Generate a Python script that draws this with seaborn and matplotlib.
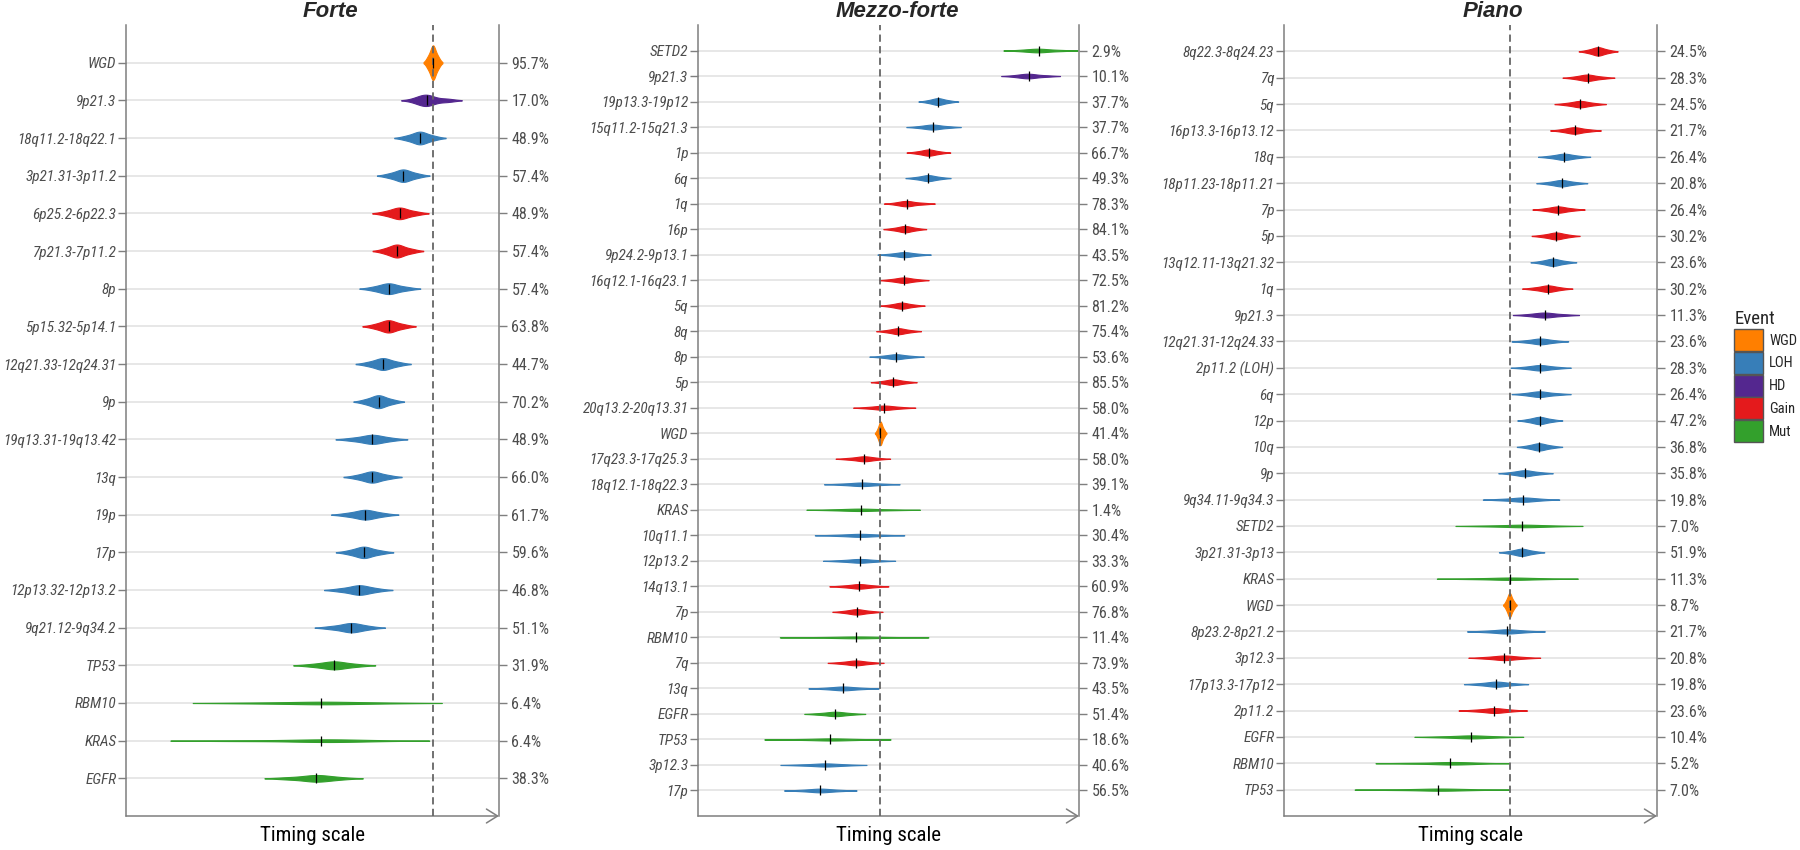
import numpy as np
import pandas as pd
import matplotlib
matplotlib.use("Agg")
import matplotlib.pyplot as plt
from matplotlib.patches import Patch
from matplotlib.collections import PolyCollection
from matplotlib import font_manager
import seaborn as sns

# ---- data (timing as fraction of each panel's timing axis) ----
forte_events = ["WGD", "9p21.3", "18q11.2-18q22.1", "3p21.31-3p11.2", "6p25.2-6p22.3",
                "7p21.3-7p11.2", "8p", "5p15.32-5p14.1", "12q21.33-12q24.31", "9p",
                "19q13.31-19q13.42", "13q", "19p", "17p", "12p13.32-12p13.2",
                "9q21.12-9q34.2", "TP53", "RBM10", "KRAS", "EGFR"]
forte_types = ["WGD", "HD", "LOH", "LOH", "Gain", "Gain", "LOH", "Gain", "LOH", "LOH",
               "LOH", "LOH", "LOH", "LOH", "LOH", "LOH", "Mut", "Mut", "Mut", "Mut"]
forte_pct = [95.7, 17.0, 48.9, 57.4, 48.9, 57.4, 57.4, 63.8, 44.7, 70.2,
             48.9, 66.0, 61.7, 59.6, 46.8, 51.1, 31.9, 6.4, 6.4, 38.3]
forte_lo = [0.798, 0.752, 0.720, 0.674, 0.663, 0.664, 0.629, 0.636, 0.617, 0.611,
            0.561, 0.585, 0.550, 0.565, 0.530, 0.504, 0.450, 0.172, 0.072, 0.367]
forte_med = [0.823, 0.807, 0.788, 0.743, 0.734, 0.727, 0.705, 0.704, 0.689, 0.677,
             0.660, 0.660, 0.641, 0.638, 0.625, 0.603, 0.558, 0.524, 0.523, 0.509]
forte_hi = [0.848, 0.910, 0.856, 0.813, 0.812, 0.798, 0.790, 0.777, 0.763, 0.745,
            0.751, 0.739, 0.728, 0.717, 0.711, 0.690, 0.667, 0.831, 0.746, 0.627]

mezzo_events = ["SETD2", "9p21.3", "19p13.3-19p12", "15q11.2-15q21.3", "1p", "6q", "1q",
                "16p", "9p24.2-9p13.1", "16q12.1-16q23.1", "5q", "8q", "8p", "5p",
                "20q13.2-20q13.31", "WGD", "17q23.3-17q25.3", "18q12.1-18q22.3", "KRAS",
                "10q11.1", "12p13.2", "14q13.1", "7p", "RBM10", "7q", "13q", "EGFR",
                "TP53", "3p12.3", "17p"]
mezzo_types = ["Mut", "HD", "LOH", "LOH", "Gain", "LOH", "Gain", "Gain", "LOH", "Gain",
               "Gain", "Gain", "LOH", "Gain", "Gain", "WGD", "Gain", "LOH", "Mut", "LOH",
               "LOH", "Gain", "Gain", "Mut", "Gain", "LOH", "Mut", "Mut", "LOH", "LOH"]
mezzo_pct = [2.9, 10.1, 37.7, 37.7, 66.7, 49.3, 78.3, 84.1, 43.5, 72.5, 81.2, 75.4, 53.6,
             85.5, 58.0, 41.4, 58.0, 39.1, 1.4, 30.4, 33.3, 60.9, 76.8, 11.4, 73.9, 43.5,
             51.4, 18.6, 40.6, 56.5]
mezzo_lo = [0.808, 0.802, 0.580, 0.550, 0.548, 0.545, 0.495, 0.487, 0.472, 0.477, 0.479,
            0.469, 0.452, 0.455, 0.408, 0.465, 0.360, 0.332, 0.292, 0.307, 0.328, 0.345,
            0.355, 0.211, 0.341, 0.292, 0.279, 0.169, 0.214, 0.227]
mezzo_med = [0.894, 0.868, 0.630, 0.616, 0.605, 0.604, 0.549, 0.543, 0.541, 0.540, 0.535,
             0.526, 0.520, 0.513, 0.489, 0.479, 0.435, 0.430, 0.428, 0.425, 0.424, 0.423,
             0.417, 0.416, 0.414, 0.381, 0.360, 0.347, 0.333, 0.321]
mezzo_hi = [1.000, 0.954, 0.683, 0.691, 0.661, 0.662, 0.626, 0.598, 0.610, 0.605, 0.595,
            0.585, 0.593, 0.574, 0.569, 0.495, 0.501, 0.528, 0.586, 0.539, 0.515, 0.498,
            0.485, 0.596, 0.486, 0.474, 0.437, 0.496, 0.437, 0.415]

piano_events = ["8q22.3-8q24.23", "7q", "5q", "16p13.3-16p13.12", "18q", "18p11.23-18p11.21",
                "7p", "5p", "13q12.11-13q21.32", "1q", "9p21.3", "12q21.31-12q24.33",
                "2p11.2 (LOH)", "6q", "12p", "10q", "9p", "9q34.11-9q34.3", "SETD2",
                "3p21.31-3p13", "KRAS", "WGD", "8p23.2-8p21.2", "3p12.3", "17p13.3-17p12",
                "2p11.2", "EGFR", "RBM10", "TP53"]
piano_types = ["Gain", "Gain", "Gain", "Gain", "LOH", "LOH", "Gain", "Gain", "LOH", "Gain",
               "HD", "LOH", "LOH", "LOH", "LOH", "LOH", "LOH", "LOH", "Mut", "LOH", "Mut",
               "WGD", "LOH", "Gain", "LOH", "Gain", "Mut", "Mut", "Mut"]
piano_pct = [24.5, 28.3, 24.5, 21.7, 26.4, 20.8, 26.4, 30.2, 23.6, 30.2, 11.3, 23.6, 28.3,
             26.4, 47.2, 36.8, 35.8, 19.8, 7.0, 51.9, 11.3, 8.7, 21.7, 20.8, 19.8, 23.6,
             10.4, 5.2, 7.0]
piano_lo = [0.791, 0.750, 0.726, 0.717, 0.682, 0.678, 0.668, 0.664, 0.663, 0.638, 0.618,
            0.610, 0.610, 0.615, 0.627, 0.626, 0.577, 0.530, 0.454, 0.577, 0.405, 0.588,
            0.490, 0.495, 0.483, 0.466, 0.347, 0.228, 0.176]
piano_med = [0.842, 0.814, 0.794, 0.779, 0.751, 0.744, 0.735, 0.729, 0.721, 0.707, 0.699,
             0.687, 0.687, 0.686, 0.685, 0.684, 0.646, 0.640, 0.638, 0.637, 0.606, 0.605,
             0.597, 0.591, 0.569, 0.563, 0.500, 0.445, 0.413]
piano_hi = [0.894, 0.887, 0.862, 0.851, 0.820, 0.813, 0.806, 0.791, 0.784, 0.771, 0.793,
            0.760, 0.769, 0.771, 0.746, 0.746, 0.721, 0.732, 0.790, 0.697, 0.778, 0.624,
            0.696, 0.685, 0.653, 0.647, 0.635, 0.578, 0.583]

EVENT_ORDER = ["WGD", "LOH", "HD", "Gain", "Mut"]
EVENT_COLORS = {"WGD": "#FF7F00", "LOH": "#377EB8", "HD": "#54278F",
                "Gain": "#E41A1C", "Mut": "#33A02C"}

sns.set_style("white")
installed = {f.name for f in font_manager.fontManager.ttflist}
COND = next((f for f in ["Roboto Condensed", "Liberation Sans Narrow", "Roboto"]
             if f in installed), "DejaVu Sans")
plt.rcParams["font.family"] = [COND, "DejaVu Sans"]

GRAY = "#7F7F7F"
LABEL = "#4D4D4D"
W, H = 1800, 850


def panel_frame(events, types, lo, med, hi):
    """Long table of timing estimates for one panel"""
    rows = []
    for ev, ty, a, m, b in zip(events, types, lo, med, hi):
        for v in ((a + m) / 2, m, m, m, (m + b) / 2):
            rows.append({"event": ev, "type": ty, "timing": v})
    return pd.DataFrame(rows)


def draw_panel(fig, box, title_x, title, events, types, pct, lo, med, hi):
    left, right = box
    ax = fig.add_axes([left / W, 1 - 816 / H, (right - left) / W, (816 - 25) / H])
    n = len(events)
    df = panel_frame(events, types, lo, med, hi)

    sns.violinplot(data=df, x="timing", y="event", hue="type", order=events,
                   palette=EVENT_COLORS, orient="y", dodge=False, inner=None,
                   cut=2, gridsize=300, width=0.92, density_norm="area",
                   common_norm=True, saturation=1, linewidth=0, legend=False, ax=ax)
    # outline each violin in its own colour so the thin ones stay visible
    for coll in ax.collections:
        if isinstance(coll, PolyCollection):
            coll.set_edgecolor(coll.get_facecolor())
            coll.set_linewidth(0.8)

    sns.scatterplot(x=med, y=np.arange(n), marker="|", color="black", s=45,
                    linewidth=0.9, legend=False, ax=ax, zorder=5)

    ax.axvline(med[types.index("WGD")], color="#666666", lw=1.3,
               dashes=(4, 2.4), zorder=4)

    ax.set_xlim(0, 1)
    ax.set_ylim(n, -1)
    ax.set_xticks([])
    ax.set_yticks(np.arange(n))
    ax.set_yticklabels(events, fontstyle="italic")
    ax.set_ylabel("")
    ax.set_xlabel("Timing scale", fontsize=15, color="black", labelpad=7)
    ax.yaxis.grid(True, color="#E3E3E3", lw=1.2)
    ax.xaxis.grid(False)
    ax.set_axisbelow(True)
    ax.tick_params(axis="y", length=5.5, width=1, color=GRAY, pad=1.5,
                   labelsize=11, labelcolor=LABEL)

    for side in ["top", "bottom"]:
        ax.spines[side].set_visible(False)
    for side in ["left", "right"]:
        ax.spines[side].set_color(GRAY)
        ax.spines[side].set_linewidth(1.1)

    ax.annotate("", xy=(1, 0), xytext=(0, 0), xycoords="axes fraction",
                arrowprops=dict(arrowstyle="->,head_length=0.8,head_width=0.5",
                                color=GRAY, lw=1.1, mutation_scale=10,
                                shrinkA=0, shrinkB=0),
                annotation_clip=False)

    ax2 = ax.twinx()
    ax2.set_ylim(ax.get_ylim())
    ax2.set_yticks(np.arange(n))
    ax2.set_yticklabels([f"{p:.1f}%" for p in pct])
    ax2.tick_params(axis="y", length=5.5, width=1, color=GRAY, pad=3.5,
                    labelsize=11.5, labelcolor=LABEL)
    for side in ax2.spines:
        ax2.spines[side].set_visible(False)

    fig.text(title_x / W, 1 - 17 / H, title, ha="center", va="baseline",
             fontsize=16, fontweight="bold", fontstyle="italic",
             family=["Liberation Sans", "DejaVu Sans"])
    return ax


fig = plt.figure(figsize=(18, 8.5), dpi=100)

draw_panel(fig, (126, 499), 330, "Forte", forte_events, forte_types, forte_pct,
           forte_lo, forte_med, forte_hi)
draw_panel(fig, (698, 1079), 897, "Mezzo-forte", mezzo_events, mezzo_types, mezzo_pct,
           mezzo_lo, mezzo_med, mezzo_hi)
draw_panel(fig, (1284, 1657), 1493, "Piano", piano_events, piano_types, piano_pct,
           piano_lo, piano_med, piano_hi)

handles = [Patch(facecolor=EVENT_COLORS[k], edgecolor="#555555", lw=1, label=k)
           for k in EVENT_ORDER]
leg = fig.legend(handles=handles, title="Event", loc="upper left",
                 bbox_to_anchor=(1727 / W, 1 - 303 / H), frameon=False,
                 fontsize=10.5, title_fontsize=13.5, handlelength=1.95,
                 handleheight=1.95, labelspacing=0.05, handletextpad=0.45,
                 borderpad=0, alignment="left")

fig.savefig("out.png", dpi=100)
